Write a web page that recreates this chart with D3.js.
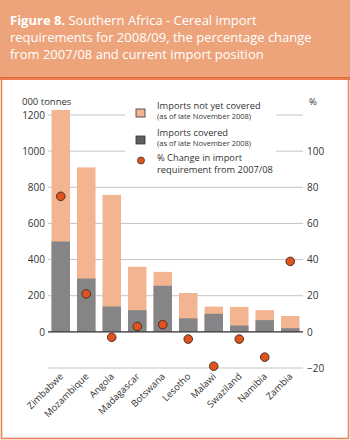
<!DOCTYPE html>
<html>
<head>
<meta charset="utf-8">
<script src="https://cdn.jsdelivr.net/npm/d3@7"></script>
<style>
  body { margin: 0; background: #fff; }
  svg text { font-family: "Open Sans", "DejaVu Sans", sans-serif; }
</style>
</head>
<body>
<div id="chart"></div>
<script>
// Data
const countries = ["Zimbabwe", "Mozambique", "Angola", "Madagascar", "Botswana",
    "Lesotho", "Malawi", "Swaziland", "Namibia", "Zambia"];
const totalRequirement = [1228, 910, 758, 360, 332, 215, 140, 138, 120, 88];
const importsCovered = [500, 295, 140, 120, 255, 75, 100, 35, 65, 20];
const pctChange = [75, 21, -3, 3, 4, -4, -19, -4, -14, 39];
const leftTicks = [0, 200, 400, 600, 800, 1000, 1200];
const rightTicks = [-20, 0, 20, 40, 60, 80, 100];

const width = 350, height = 440;
const plot = {left: 48, right: 303, top: 115, bottom: 368};

const svg = d3.select("#chart").append("svg")
    .attr("width", width)
    .attr("height", height);

// Header band
svg.append("rect").attr("x", 0).attr("y", 0).attr("width", width).attr("height", 80)
    .attr("fill", "#eda47b");
svg.append("rect").attr("x", 0).attr("y", 77).attr("width", width).attr("height", 3)
    .attr("fill", "#e26a33");

const titleLines = [
    [["Figure 8.", "bold"], [" Southern Africa - Cereal import", "normal"]],
    [["requirements for 2008/09, the percentage change", "normal"]],
    [["from 2007/08 and current import position", "normal"]]
];
titleLines.forEach(function (line, i) {
    const t = svg.append("text")
        .attr("x", 10)
        .attr("y", 25 + i * 17)
        .attr("fill", "#fff")
        .style("font-size", "13px");
    line.forEach(function (part) {
        t.append("tspan").attr("font-weight", part[1]).text(part[0]);
    });
});

// Panel frame
svg.append("rect").attr("x", 1.5).attr("y", 79).attr("width", width - 3).attr("height", 359.5)
    .attr("fill", "none").attr("stroke", "#ea8459").attr("stroke-width", 1.6);

// Scales
const x = d3.scaleBand()
    .domain(countries)
    .range([plot.left, plot.right])
    .paddingInner(0.275)
    .paddingOuter(0.1375);

const y = d3.scaleLinear()
    .domain([-200, 1200])
    .range([plot.bottom, plot.top]);

const yPct = d3.scaleLinear()
    .domain([-20, 120])
    .range([plot.bottom, plot.top]);

// Gridlines
const grid = [-200, 0, 200, 400, 600, 800, 1000, 1200];
svg.append("g").selectAll("line")
    .data(grid)
    .join("line")
    .attr("x1", plot.left)
    .attr("x2", plot.right)
    .attr("y1", d => y(d))
    .attr("y2", d => y(d))
    .attr("stroke", "#c4c4c4")
    .attr("stroke-width", 1);

// Left axis
const leftAxis = svg.append("g")
    .attr("transform", "translate(" + plot.left + ",0)")
    .call(d3.axisLeft(y).tickValues(leftTicks).tickFormat(d3.format("d")).tickSize(0).tickPadding(3));
leftAxis.select(".domain").remove();
leftAxis.selectAll("text").style("font-size", "10px").attr("fill", "#333")
    .attr("font-family", "\"Open Sans\", sans-serif");

svg.append("text")
    .attr("x", 22)
    .attr("y", 105)
    .attr("fill", "#333")
    .style("font-size", "9.5px")
    .text("000 tonnes");

// Right axis
const rightAxis = svg.append("g")
    .attr("transform", "translate(" + plot.right + ",0)")
    .call(d3.axisRight(yPct).tickValues(rightTicks).tickSize(0).tickPadding(4));
rightAxis.select(".domain").remove();
rightAxis.selectAll("text").style("font-size", "10px").attr("fill", "#333")
    .attr("font-family", "\"Open Sans\", sans-serif");

svg.append("text")
    .attr("x", 313)
    .attr("y", 105)
    .attr("text-anchor", "middle")
    .attr("fill", "#333")
    .style("font-size", "9.5px")
    .text("%");

// Legend box (white, hides the gridlines behind it)
const legend = svg.append("g");
legend.append("rect")
    .attr("x", 125).attr("y", 96).attr("width", 151).attr("height", 82)
    .attr("fill", "#fff");

const legendItems = [
    {type: "rect", fill: "#f3b492", label: "Imports not yet covered", sub: "(as of late November 2008)", y: 109},
    {type: "rect", fill: "#5f5f5f", label: "Imports covered", sub: "(as of late November 2008)", y: 136},
    {type: "dot", fill: "#e0531c", label: "% Change in import", sub2: "requirement from 2007/08", y: 161}
];
legendItems.forEach(function (d) {
    if (d.type === "rect") {
        legend.append("rect")
            .attr("x", 136).attr("y", d.y).attr("width", 9).attr("height", 8)
            .attr("fill", d.fill).attr("stroke", "#333").attr("stroke-width", 0.8);
    } else {
        legend.append("circle")
            .attr("cx", 141).attr("cy", d.y - 0.5).attr("r", 3.5)
            .attr("fill", d.fill).attr("stroke", "#333").attr("stroke-width", 0.8);
    }
    legend.append("text")
        .attr("x", 157).attr("y", d.y)
        .attr("fill", "#333").style("font-size", "9.3px")
        .text(d.label);
    if (d.sub) {
        legend.append("text")
            .attr("x", 157).attr("y", d.y + 10)
            .attr("fill", "#333").style("font-size", "7.5px")
            .text(d.sub);
    }
    if (d.sub2) {
        legend.append("text")
            .attr("x", 157).attr("y", d.y + 12)
            .attr("fill", "#333").style("font-size", "9.3px")
            .text(d.sub2);
    }
});

// Bars: total requirement (not yet covered part on top) then covered part
svg.append("g").selectAll("rect")
    .data(countries)
    .join("rect")
    .attr("x", d => x(d))
    .attr("width", x.bandwidth())
    .attr("y", (d, i) => y(totalRequirement[i]))
    .attr("height", (d, i) => y(0) - y(totalRequirement[i]))
    .attr("fill", "#f3b492");

svg.append("g").selectAll("rect")
    .data(countries)
    .join("rect")
    .attr("x", d => x(d))
    .attr("width", x.bandwidth())
    .attr("y", (d, i) => y(importsCovered[i]))
    .attr("height", (d, i) => y(0) - y(importsCovered[i]))
    .attr("fill", "#858587");

// Zero line
svg.append("line")
    .attr("x1", plot.left).attr("x2", plot.right)
    .attr("y1", y(0)).attr("y2", y(0))
    .attr("stroke", "#3a3a3a").attr("stroke-width", 1.2);

// Percent change dots
svg.append("g").selectAll("circle")
    .data(countries)
    .join("circle")
    .attr("cx", d => x(d) + x.bandwidth() / 2)
    .attr("cy", (d, i) => yPct(pctChange[i]))
    .attr("r", 4.3)
    .attr("fill", "#e0531c")
    .attr("stroke", "#3a2a22")
    .attr("stroke-width", 0.9);

// Category labels
svg.append("g").selectAll("text")
    .data(countries)
    .join("text")
    .attr("text-anchor", "end")
    .attr("transform", d => "translate(" + (x(d) + x.bandwidth() / 2 + 3) + ",377) rotate(-45)")
    .attr("fill", "#333")
    .style("font-size", "9.5px")
    .text(d => d);
</script>
</body>
</html>
